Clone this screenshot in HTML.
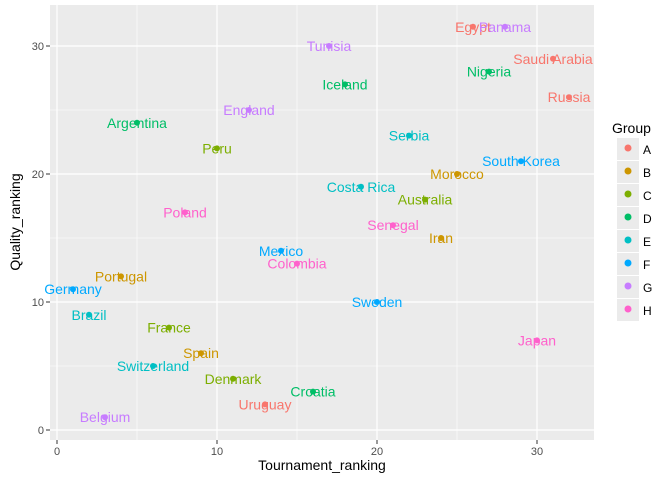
<!DOCTYPE html>
<html><head><meta charset="utf-8"><style>
body{margin:0;background:#fff;font-family:"Liberation Sans",sans-serif}
</style></head><body>
<svg width="672" height="480" xmlns="http://www.w3.org/2000/svg" style="font-family:'Liberation Sans',sans-serif">
<rect x="50" y="5" width="544" height="435" fill="#EBEBEB"/>
<g id="grid"></g><g id="pts"></g><g id="axes"></g>
<text x="322" y="470" text-anchor="middle" font-size="14" fill="#000">Tournament_ranking</text>
<text transform="translate(20,222) rotate(-90)" text-anchor="middle" font-size="14" fill="#000">Quality_ranking</text>
<text x="612" y="133" font-size="14">Group</text>
<g id="legend"></g>
</svg>
<script>
const names=["Egypt","Panama","Tunisia","Saudi Arabia","Nigeria","Russia","Iceland","England","Argentina","Serbia","Peru","South Korea","Morocco","Costa Rica","Australia","Poland","Senegal","Iran","Mexico","Colombia","Portugal","Germany","Sweden","Brazil","France","Japan","Spain","Switzerland","Denmark","Croatia","Uruguay","Belgium"];
const tourn=[26,28,17,31,27,32,18,12,5,22,10,29,25,19,23,8,21,24,14,15,4,1,20,2,7,30,9,6,11,16,13,3];
const quality=[31.5,31.5,30,29,28,26,27,25,24,23,22,21,20,19,18,17,16,15,14,13,12,11,10,9,8,7,6,5,4,3,2,1];
const groups=["A","G","G","A","D","A","D","G","D","E","C","F","B","E","C","H","H","B","F","H","B","F","F","E","C","H","B","E","C","D","A","G"];
const groupList=["A","B","C","D","E","F","G","H"];
const colors={A:"#F8766D",B:"#CD9600",C:"#7CAE00",D:"#00BE67",E:"#00BFC4",F:"#00A9FF",G:"#C77CFF",H:"#FF61CC"};
const xTicks=[0,10,20,30], yTicks=[0,10,20,30];
const X=v=>57+v*16, Y=v=>430-v*12.8;
const NS="http://www.w3.org/2000/svg";
function mk(t,a,p){const e=document.createElementNS(NS,t);for(const k in a)e.setAttribute(k,a[k]);p.appendChild(e);return e;}
const grid=document.getElementById('grid'),axes=document.getElementById('axes'),pts=document.getElementById('pts'),leg=document.getElementById('legend');
[5,15,25].forEach(v=>{let l=mk('line',{x1:X(v),x2:X(v),y1:5,y2:440,stroke:"#fff","stroke-width":0.6},grid);
let m=mk('line',{x1:50,x2:594,y1:Y(v),y2:Y(v),stroke:"#fff","stroke-width":0.6},grid);});
xTicks.forEach(v=>{let l=mk('line',{x1:X(v),x2:X(v),y1:5,y2:440,stroke:"#fff","stroke-width":1.2},grid);
mk('line',{x1:X(v),x2:X(v),y1:440,y2:444,stroke:"#333"},axes);
let t=mk('text',{x:X(v),y:455,"text-anchor":"middle","font-size":11,fill:"#4D4D4D"},axes);t.textContent=v;});
yTicks.forEach(v=>{let l=mk('line',{x1:50,x2:594,y1:Y(v),y2:Y(v),stroke:"#fff","stroke-width":1.2},grid);
mk('line',{x1:46,x2:50,y1:Y(v),y2:Y(v),stroke:"#333"},axes);
let t=mk('text',{x:44,y:Y(v)+4,"text-anchor":"end","font-size":11,fill:"#4D4D4D"},axes);t.textContent=v;});
names.forEach((n,i)=>{const c=colors[groups[i]];
let p=mk('circle',{cx:X(tourn[i]),cy:Y(quality[i]),r:3,fill:c},pts);
let t=mk('text',{x:X(tourn[i]),y:Y(quality[i])+5,"text-anchor":"middle","font-size":14,fill:c},pts);t.textContent=n;});
groupList.forEach((g,i)=>{const y=138+i*23;
let r=mk('rect',{x:617,y:y,width:22,height:22,fill:"#EBEBEB"},leg);
mk('circle',{cx:628,cy:y+10,r:3.5,fill:colors[g]},leg);
let t=mk('text',{x:643,y:y+16,"font-size":12},leg);t.textContent=g;});
</script>
</body></html>
